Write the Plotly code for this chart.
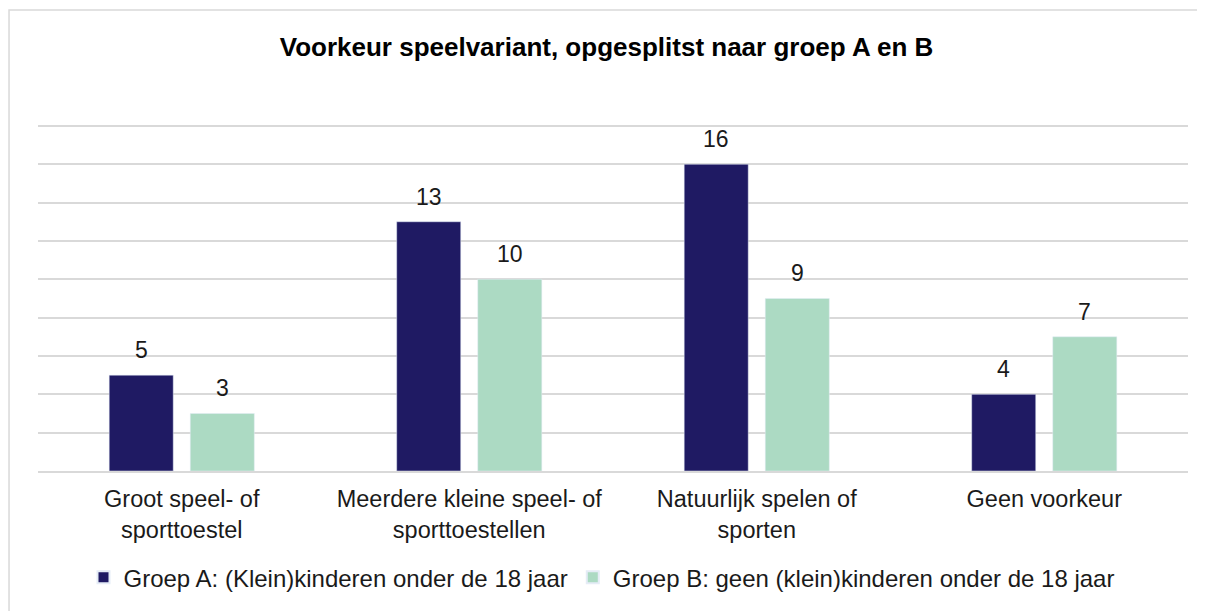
import plotly.graph_objects as go

# categorieën en waarden
categorieen = [
    "Groot speel- of<br>sporttoestel",
    "Meerdere kleine speel- of<br>sporttoestellen",
    "Natuurlijk spelen of<br>sporten",
    "Geen voorkeur",
]
groep_a = [5, 13, 16, 4]
groep_b = [3, 10, 9, 7]
naam_a = "Groep A: (Klein)kinderen onder de 18 jaar"
naam_b = "Groep B: geen (klein)kinderen onder de 18 jaar"

kleur_a = "#1f1a63"
kleur_b = "#acdac3"
tekst = "#1a1a1a"
font = "Liberation Sans, Arial, sans-serif"

fig = go.Figure()
fig.add_trace(go.Bar(x=categorieen, y=groep_a, name=naam_a, marker_color=kleur_a))
fig.add_trace(go.Bar(x=categorieen, y=groep_b, name=naam_b, marker_color=kleur_b))

# waardelabels boven de staven
for waarden, shift in [(groep_a, -40.5), (groep_b, 40.5)]:
    for cat, v in zip(categorieen, waarden):
        fig.add_annotation(x=cat, y=v, text=str(v), showarrow=False,
                           xshift=shift, yshift=25, yanchor="middle",
                           font=dict(size=23, color=tekst, family=font))

# rand om de grafiek
fig.add_shape(type="rect", xref="paper", yref="paper",
              x0=-0.0252, x1=1.03, y0=-0.45, y1=1.325,
              line=dict(color="#d9d9d9", width=1.5), layer="below")

# pagina heeft 8px marge, dus figuur iets kleiner
fig.update_layout(
    width=1197, height=603,
    margin=dict(l=30, r=17, t=115, b=139),
    paper_bgcolor="white", plot_bgcolor="white",
    font=dict(family=font, color=tekst, size=24),
    title=dict(text="<b>Voorkeur speelvariant, opgesplitst naar groep A en B</b>",
               x=0.5, xanchor="center", y=0.935, yanchor="middle",
               font=dict(size=26, color="#000000")),
    barmode="group", bargap=0.436, bargroupgap=0.21,
    showlegend=True,
    legend=dict(orientation="h", x=0.49, xanchor="center", y=-0.303, yanchor="middle",
                font=dict(size=24), itemsizing="constant"),
)
fig.update_xaxes(showline=True, linecolor="#d9d9d9", linewidth=2,
                 tickfont=dict(size=23.5), ticks="", ticklabelstandoff=6)
fig.update_yaxes(range=[0, 18.15], dtick=2, tick0=0, tickmode="linear",
                 showticklabels=False, showgrid=True,
                 gridcolor="#d9d9d9", gridwidth=2, zeroline=False, showline=False)

fig.write_html("out.html")
